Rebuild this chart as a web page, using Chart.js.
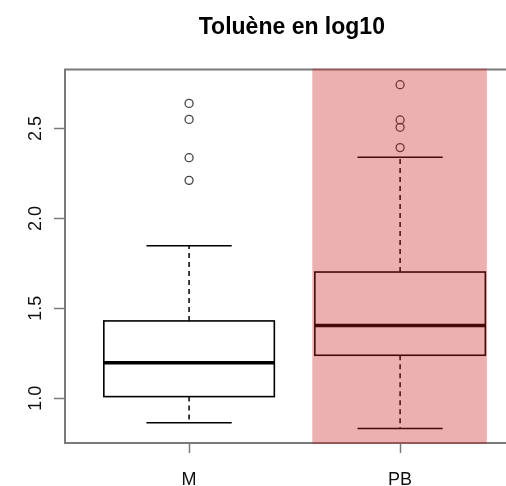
<!DOCTYPE html>
<html>
<head>
<meta charset="utf-8">
<script src="https://cdn.jsdelivr.net/npm/chart.js@4"></script>
<style>
  html, body { margin: 0; padding: 0; background: #fff; overflow: hidden; }
  canvas { display: block; }
</style>
</head>
<body>
<canvas id="chart" width="524" height="486"></canvas>
<script>
// Boxplot values (log10 toluene)
const groups = ['M', 'PB'];
const groupPos = [1, 2];
const lowerWhisker = [0.864, 0.831];
const q1 = [1.009, 1.239];
const median = [1.198, 1.405];
const q3 = [1.430, 1.702];
const upperWhisker = [1.848, 2.340];
const outliersM = [2.640, 2.551, 2.338, 2.212];
const outliersPB = [2.744, 2.548, 2.507, 2.394];
const yTicks = [1.0, 1.5, 2.0, 2.5];
// shaded zone behind the PB group (x in group units)
const highlightFrom = 1.584;
const highlightTo = 2.411;

const FONT = "'Liberation Sans', Arial, sans-serif";
const FRAME = '#7a7a7a';

// draws the boxes + whiskers using the chart scales
const boxPlugin = {
    id: 'boxes',
    beforeDatasetsDraw(chart) {
        const ctx = chart.ctx;
        const x = chart.scales.x, y = chart.scales.y;
        const boxHalf = 0.404, capHalf = 0.202;

        ctx.save();
        ctx.strokeStyle = '#000';
        for (let i = 0; i < groups.length; i++) {
            const cx = x.getPixelForValue(groupPos[i]);
            const left = x.getPixelForValue(groupPos[i] - boxHalf);
            const right = x.getPixelForValue(groupPos[i] + boxHalf);
            const capL = x.getPixelForValue(groupPos[i] - capHalf);
            const capR = x.getPixelForValue(groupPos[i] + capHalf);
            const yq1 = y.getPixelForValue(q1[i]);
            const yq3 = y.getPixelForValue(q3[i]);
            const ymed = y.getPixelForValue(median[i]);
            const ylo = y.getPixelForValue(lowerWhisker[i]);
            const yhi = y.getPixelForValue(upperWhisker[i]);

            // dashed whiskers
            ctx.lineWidth = 1.5;
            ctx.setLineDash([5, 4]);
            ctx.beginPath();
            ctx.moveTo(cx, yq3); ctx.lineTo(cx, yhi);
            ctx.moveTo(cx, yq1); ctx.lineTo(cx, ylo);
            ctx.stroke();

            // caps
            ctx.setLineDash([]);
            ctx.beginPath();
            ctx.moveTo(capL, yhi); ctx.lineTo(capR, yhi);
            ctx.moveTo(capL, ylo); ctx.lineTo(capR, ylo);
            ctx.stroke();

            // box
            ctx.fillStyle = '#fff';
            ctx.fillRect(left, yq3, right - left, yq1 - yq3);
            ctx.lineWidth = 1.6;
            ctx.strokeRect(left, yq3, right - left, yq1 - yq3);

            // median
            ctx.lineWidth = 3.5;
            ctx.beginPath();
            ctx.moveTo(left, ymed); ctx.lineTo(right, ymed);
            ctx.stroke();
        }
        ctx.restore();
    },
    afterDatasetsDraw(chart) {
        const ctx = chart.ctx;
        const area = chart.chartArea;
        const x = chart.scales.x;
        ctx.save();
        // top frame line (left/bottom come from the axes)
        ctx.strokeStyle = FRAME;
        ctx.lineWidth = 2;
        ctx.beginPath();
        ctx.moveTo(area.left - 1, area.top);
        ctx.lineTo(area.right, area.top);
        ctx.stroke();
        // translucent red band over the PB group
        const bx1 = x.getPixelForValue(highlightFrom);
        const bx2 = x.getPixelForValue(highlightTo);
        ctx.fillStyle = 'rgba(200, 30, 30, 0.35)';
        ctx.fillRect(bx1, area.top - 1, bx2 - bx1, area.bottom - area.top + 2);
        ctx.restore();
    }
};

const outlierStyle = {
    type: 'scatter',
    pointStyle: 'circle',
    pointRadius: 4,
    borderColor: '#444',
    backgroundColor: 'rgba(0,0,0,0)',
    borderWidth: 1.3
};

new Chart(document.getElementById('chart'), {
    type: 'scatter',
    data: {
        datasets: [
            Object.assign({ label: 'M', data: outliersM.map(v => ({ x: groupPos[0], y: v })) }, outlierStyle),
            Object.assign({ label: 'PB', data: outliersPB.map(v => ({ x: groupPos[1], y: v })) }, outlierStyle)
        ]
    },
    options: {
        responsive: false,
        animation: false,
        devicePixelRatio: 1,
        layout: { padding: 0 },
        plugins: {
            legend: { display: false },
            tooltip: { enabled: false },
            title: {
                display: true,
                text: 'Toluène en log10',
                fullSize: false,
                color: '#000',
                font: { family: FONT, size: 23, weight: 'bold' },
                padding: { top: 14, bottom: 28 }
            }
        },
        scales: {
            x: {
                type: 'linear',
                min: 0.412,
                max: 2.562,
                afterBuildTicks: scale => { scale.ticks = groupPos.map(v => ({ value: v })); },
                afterFit: scale => { scale.height = 43; },
                ticks: {
                    color: '#111',
                    font: { family: FONT, size: 18 },
                    padding: 16,
                    maxRotation: 0,
                    callback: v => groups[groupPos.indexOf(v)]
                },
                grid: { drawOnChartArea: false, tickLength: 10, tickColor: FRAME, tickWidth: 1.5 },
                border: { color: FRAME, width: 2 }
            },
            y: {
                min: 0.751,
                max: 2.828,
                afterBuildTicks: scale => { scale.ticks = yTicks.map(v => ({ value: v })); },
                afterFit: scale => { scale.width = 65; },
                ticks: {
                    color: '#111',
                    font: { family: FONT, size: 18 },
                    minRotation: 90,
                    maxRotation: 90,
                    crossAlign: 'center',
                    padding: 5,
                    callback: v => v.toFixed(1)
                },
                grid: { drawOnChartArea: false, tickLength: 11, tickColor: FRAME, tickWidth: 1.5 },
                border: { color: FRAME, width: 2 }
            }
        }
    },
    plugins: [boxPlugin]
});
</script>
</body>
</html>
